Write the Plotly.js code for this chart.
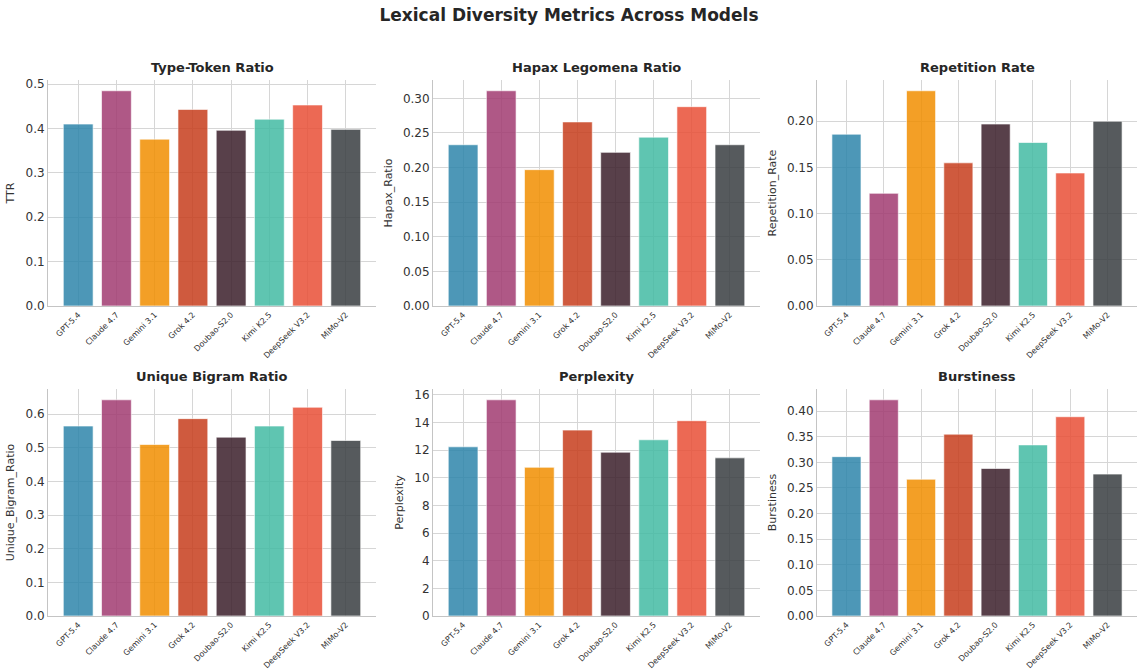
<!DOCTYPE html>
<html>
<head>
<meta charset="utf-8">
<script src="https://cdn.plot.ly/plotly-3.0.1.min.js"></script>
<style>html,body{margin:0;padding:0;background:#fff;}#chart{width:1138px;height:670px;}</style>
</head>
<body>
<div id="chart"></div>
<script>
const models = ["GPT-5.4", "Claude 4.7", "Gemini 3.1", "Grok 4.2", "Doubao-S2.0", "Kimi K2.5", "DeepSeek V3.2", "MiMo-V2"];
const colors = ["#2E86AB", "#A23B72", "#F18F01", "#C73E1D", "#3B1F2B", "#44BBA4", "#E94F37", "#393E41"];

const ttr = [0.410, 0.485, 0.376, 0.443, 0.396, 0.421, 0.453, 0.398];
const hapaxRatio = [0.233, 0.311, 0.197, 0.266, 0.222, 0.244, 0.288, 0.233];
const repetitionRate = [0.186, 0.122, 0.233, 0.155, 0.197, 0.177, 0.144, 0.200];
const uniqueBigramRatio = [0.565, 0.643, 0.510, 0.587, 0.532, 0.565, 0.621, 0.522];
const perplexity = [12.24, 15.64, 10.76, 13.45, 11.85, 12.75, 14.13, 11.44];
const burstiness = [0.311, 0.422, 0.267, 0.355, 0.288, 0.334, 0.389, 0.277];

const panelTitles = ["Type-Token Ratio", "Hapax Legomena Ratio", "Repetition Rate", "Unique Bigram Ratio", "Perplexity", "Burstiness"];
const yLabels = ["TTR", "Hapax_Ratio", "Repetition_Rate", "Unique_Bigram_Ratio", "Perplexity", "Burstiness"];
const series = [ttr, hapaxRatio, repetitionRate, uniqueBigramRatio, perplexity, burstiness];
const dticks = [0.1, 0.05, 0.05, 0.1, 2, 0.05];
const formats = [".1f", ".2f", ".2f", ".1f", "d", ".2f"];

const W = 1138, H = 670;
const colPx = [[48, 376], [433, 760], [817, 1137]];
const rowPx = [[80, 306], [389, 616]];

const data = [];
const layout = {
  width: W, height: H,
  margin: {l: 0, r: 0, t: 0, b: 0},
  paper_bgcolor: "#ffffff",
  plot_bgcolor: "#ffffff",
  showlegend: false,
  font: {family: "DejaVu Sans, sans-serif", color: "#333333"},
  bargap: 0,
  title: {
    text: "<b>Lexical Diversity Metrics Across Models</b>",
    font: {family: "DejaVu Sans, sans-serif", size: 17, color: "#262626"},
    x: 0.5, xanchor: "center", xref: "paper",
    y: 1 - 15 / H, yanchor: "middle", yref: "container"
  },
  annotations: []
};

for (let i = 0; i < 6; i++) {
  const r = Math.floor(i / 3), c = i % 3;
  const xa = "xaxis" + (i === 0 ? "" : (i + 1));
  const ya = "yaxis" + (i === 0 ? "" : (i + 1));
  const xs = "x" + (i === 0 ? "" : (i + 1));
  const ys = "y" + (i === 0 ? "" : (i + 1));
  const vals = series[i];
  data.push({
    type: "bar",
    x: models,
    y: vals,
    xaxis: xs, yaxis: ys,
    width: 0.78,
    marker: {color: colors, opacity: 0.85, line: {color: "rgba(255,255,255,0.8)", width: 0.8}},
    hoverinfo: "x+y"
  });
  const xd = [colPx[c][0] / W, colPx[c][1] / W];
  const yd = [1 - rowPx[r][1] / H, 1 - rowPx[r][0] / H];
  layout[xa] = {
    domain: xd,
    anchor: ys,
    type: "category",
    range: [-0.79, 7.79],
    tickangle: -45,
    tickfont: {size: 8, color: "#333333"},
    showgrid: true, gridcolor: "#d6d6d6", gridwidth: 1,
    showline: true, linecolor: "#c4c4c4", linewidth: 1,
    ticks: "", zeroline: false, fixedrange: true,
    automargin: false
  };
  const ymax = Math.max(...vals) * 1.05;
  layout[ya] = {
    domain: yd,
    anchor: xs,
    range: [0, ymax],
    dtick: dticks[i], tick0: 0,
    tickformat: formats[i],
    tickfont: {size: 12, color: "#333333"},
    showgrid: true, gridcolor: "#d6d6d6", gridwidth: 1,
    showline: true, linecolor: "#c4c4c4", linewidth: 1,
    ticks: "", zeroline: false, fixedrange: true,
    automargin: false,
    title: {text: yLabels[i], font: {size: 11, color: "#333333"}, standoff: 8}
  };
  layout.annotations.push({
    text: "<b>" + panelTitles[i] + "</b>",
    xref: "paper", yref: "paper",
    x: (xd[0] + xd[1]) / 2, y: yd[1],
    xanchor: "center", yanchor: "bottom", yshift: 3,
    showarrow: false,
    font: {family: "DejaVu Sans, sans-serif", size: 13, color: "#262626"}
  });
}

Plotly.newPlot("chart", data, layout, {displayModeBar: false, staticPlot: true});
</script>
</body>
</html>
